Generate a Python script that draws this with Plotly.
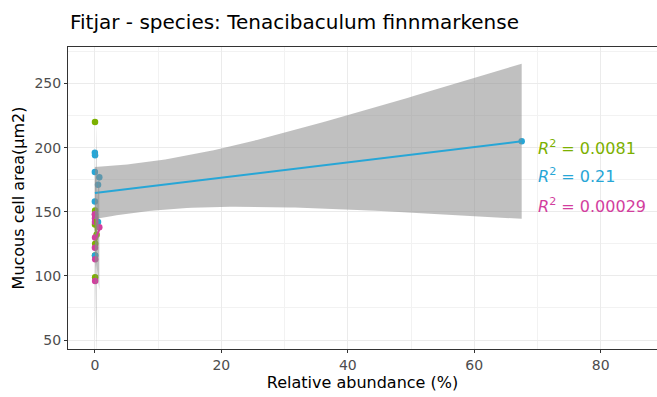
import numpy as np
import plotly.graph_objects as go

# ---------------- data ----------------
green_x = [0.02, 0.04, 0.06, 0.27, 0.05, 0.03, 0.04, 0.02]
green_y = [220, 151, 146, 132, 125, 116, 99, 140]

blue_x = [0.0, 0.03, 0.0, 0.7, 0.5, 0.0, 0.05, 0.5, 0.03, 67.5]
blue_y = [196, 194, 181, 177, 171, 158, 148, 142, 116, 205]

magenta_x = [0.0, 0.02, 0.7, 0.03, 0.05, 0.04, 0.02, 0.01]
magenta_y = [148, 145, 138, 130, 113, 96, 142, 122]

r2_labels = ["0.0081", "0.21", "0.00029"]
x_ticks = [0, 20, 40, 60, 80]
y_ticks = [50, 100, 150, 200, 250]

GREEN = "#7CB000"
BLUE = "#27A6D6"
MAGENTA = "#D23E9E"


def t975(df):
    z = 1.959964
    g1 = (z**3 + z) / 4
    g2 = (5 * z**5 + 16 * z**3 + 3 * z) / 96
    g3 = (3 * z**7 + 19 * z**5 + 17 * z**3 - 15 * z) / 384
    g4 = (79 * z**9 + 776 * z**7 + 1482 * z**5 - 1920 * z**3 - 945 * z) / 92160
    return z + g1 / df + g2 / df**2 + g3 / df**3 + g4 / df**4


def lm_fit(x, y, n_grid=80):
    x = np.asarray(x, float)
    y = np.asarray(y, float)
    n = len(x)
    b, a = np.polyfit(x, y, 1)
    resid = y - (a + b * x)
    s = np.sqrt(np.sum(resid**2) / (n - 2))
    xbar = x.mean()
    sxx = np.sum((x - xbar) ** 2)
    xg = np.linspace(x.min(), x.max(), n_grid)
    fit = a + b * xg
    se = s * np.sqrt(1.0 / n + (xg - xbar) ** 2 / sxx)
    t = t975(n - 2)
    return xg, fit, fit - t * se, fit + t * se


fig = go.Figure()

groups = [(green_x, green_y, GREEN), (blue_x, blue_y, BLUE), (magenta_x, magenta_y, MAGENTA)]

for gx, gy, col in groups:
    fig.add_trace(go.Scatter(x=gx, y=gy, mode="markers",
                             marker=dict(color=col, size=6.5, line=dict(width=0)),
                             showlegend=False, hoverinfo="x+y"))

for gx, gy, col in groups:
    xg, fit, lo, hi = lm_fit(gx, gy)
    fig.add_trace(go.Scatter(x=np.concatenate([xg, xg[::-1]]),
                             y=np.concatenate([hi, lo[::-1]]),
                             fill="toself", fillcolor="rgba(140,140,140,0.55)",
                             line=dict(width=0), mode="lines",
                             showlegend=False, hoverinfo="skip"))
    fig.add_trace(go.Scatter(x=xg, y=fit, mode="lines",
                             line=dict(color=col, width=2),
                             showlegend=False, hoverinfo="skip"))

FONT = "DejaVu Sans, Liberation Sans, Arial, sans-serif"

ann_y = [200.5, 178, 155]
for lab, yy, col in zip(r2_labels, ann_y, [GREEN, BLUE, MAGENTA]):
    fig.add_annotation(x=69.8, y=yy, xref="x", yref="y",
                       text="<i>R</i><sup>2</sup> = " + lab,
                       showarrow=False, xanchor="left", yanchor="middle",
                       font=dict(size=16, color=col, family=FONT))

fig.update_layout(
    width=657, height=397,
    margin=dict(l=68, r=0, t=47, b=48, autoexpand=False),
    paper_bgcolor="white", plot_bgcolor="white",
    font=dict(family=FONT),
    title=dict(text="Fitjar - species: Tenacibaculum finnmarkense",
               x=70 / 657, xanchor="left", y=1 - 22 / 397, yanchor="middle",
               pad=dict(l=0, r=0, t=0, b=0),
               font=dict(size=20, color="black", family=FONT)),
    showlegend=False,
)

fig.update_xaxes(
    range=[-4.25, 88.9], tickvals=x_ticks, ticktext=[str(v) for v in x_ticks],
    automargin=False,
    showgrid=True, gridcolor="#EBEBEB", gridwidth=1,
    minor=dict(tickvals=[10, 30, 50, 70], showgrid=True, gridcolor="#F2F2F2", gridwidth=0.6),
    zeroline=False, showline=True, linecolor="#333333", linewidth=1, mirror=True,
    ticks="outside", ticklen=3, tickcolor="#333333", tickwidth=1,
    tickfont=dict(size=14, color="#4D4D4D"),
    title=dict(text="Relative abundance (%)", font=dict(size=16, color="black"), standoff=3),
)
fig.update_yaxes(
    range=[43, 278.5], tickvals=y_ticks, ticktext=[str(v) for v in y_ticks],
    automargin=False,
    showgrid=True, gridcolor="#EBEBEB", gridwidth=1,
    minor=dict(tickvals=[75, 125, 175, 225, 275], showgrid=True, gridcolor="#F2F2F2", gridwidth=0.6),
    zeroline=False, showline=True, linecolor="#333333", linewidth=1, mirror=False,
    ticks="outside", ticklen=3, tickcolor="#333333", tickwidth=1,
    tickfont=dict(size=14, color="#4D4D4D"),
    title=dict(text="Mucous cell area(μm2)", font=dict(size=16, color="black"), standoff=5),
)

fig.write_html("out.html",
               config={"displayModeBar": False},
               post_script="document.body.style.margin='0';document.body.style.padding='0';")
